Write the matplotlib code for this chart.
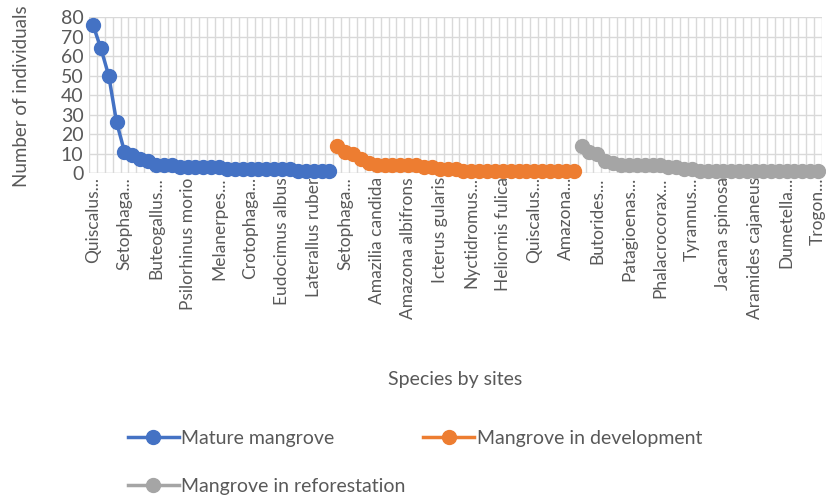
import matplotlib
matplotlib.use("Agg")
import matplotlib.pyplot as plt
import numpy as np

plt.rcParams['font.family'] = ['Lato', 'DejaVu Sans']

# ---- data ----
mature = [76, 64, 50, 26, 11, 9, 7, 6, 4, 4, 4, 3, 3, 3, 3, 3, 3,
          2, 2, 2, 2, 2, 2, 2, 2, 2, 1, 1, 1, 1, 1]
development = [14, 11, 10, 7, 5, 4, 4, 4, 4, 4, 4, 3, 3, 2, 2, 2,
               1, 1, 1, 1, 1, 1, 1, 1, 1, 1, 1, 1, 1, 1, 1]
reforestation = [14, 11, 10, 6, 5, 4, 4, 4, 4, 4, 4, 3, 3, 2, 2,
                 1, 1, 1, 1, 1, 1, 1, 1, 1, 1, 1, 1, 1, 1, 1, 1]
tick_labels = ["Quiscalus...", "Setophaga...", "Buteogallus...", "Psilorhinus morio",
               "Melanerpes...", "Crotophaga...", "Eudocimus albus", "Laterallus ruber",
               "Setophaga...", "Amazilia candida", "Amazona albifrons", "Icterus gularis",
               "Nyctidromus...", "Heliornis fulica", "Quiscalus...", "Amazona...",
               "Butorides...", "Patagioenas...", "Phalacrocorax...", "Tyrannus...",
               "Jacana spinosa", "Aramides cajaneus", "Dumetella...", "Trogon..."]
series_names = ["Mature mangrove", "Mangrove in development", "Mangrove in reforestation"]
colors = ["#4472C4", "#ED7D31", "#A5A5A5"]

n_total = len(mature) + len(development) + len(reforestation)

fig = plt.figure(figsize=(8.26, 4.96), dpi=100)
ax = fig.add_axes([89/826, 1-173/496, 733/826, 156/496])

handles = []
start = 0
for vals, name, c in zip([mature, development, reforestation], series_names, colors):
    x = np.arange(start, start + len(vals))
    h, = ax.plot(x, vals, color=c, lw=2.5, marker='o', ms=10, clip_on=False,
                 zorder=3, label=name)
    handles.append(h)
    start += len(vals)

ax.set_xlim(-0.5, n_total - 0.5)
ax.set_ylim(0, 80)
ax.set_yticks(np.arange(0, 81, 10))
ax.set_xticks(np.arange(0, n_total, 4))
ax.set_xticklabels(tick_labels, rotation=90, fontsize=12.5, color='#595959')
ax.tick_params(axis='y', labelsize=14, colors='#595959', length=0, pad=4)
ax.tick_params(axis='x', length=0, pad=3)

# gridlines
for k in range(n_total + 1):
    ax.axvline(k - 0.5, color='#D9D9D9', lw=1, zorder=1)
ax.yaxis.grid(True, color='#D9D9D9', lw=1, zorder=1)
ax.set_axisbelow(True)
for s in ax.spines.values():
    s.set_visible(False)
ax.axhline(0, color='#D9D9D9', lw=1, zorder=1)

fig.text(22/826, 1-96/496, "Number of individuals", rotation=90, ha='center', va='center',
         fontsize=13.5, color='#595959')
fig.text(455/826, 1-380/496, "Species by sites", ha='center', va='center',
         fontsize=14, color='#595959')

leg = fig.legend([handles[0], handles[2], handles[1]],
                 [series_names[0], series_names[2], series_names[1]],
                 ncol=2, loc='upper left', bbox_to_anchor=(128/826, 1-430/496),
                 frameon=False, fontsize=14, handlelength=2.6, handletextpad=0.15,
                 columnspacing=0.9, labelspacing=1.6, borderpad=0, borderaxespad=0,
                 labelcolor='#595959')

fig.savefig("out.png", dpi=100)
